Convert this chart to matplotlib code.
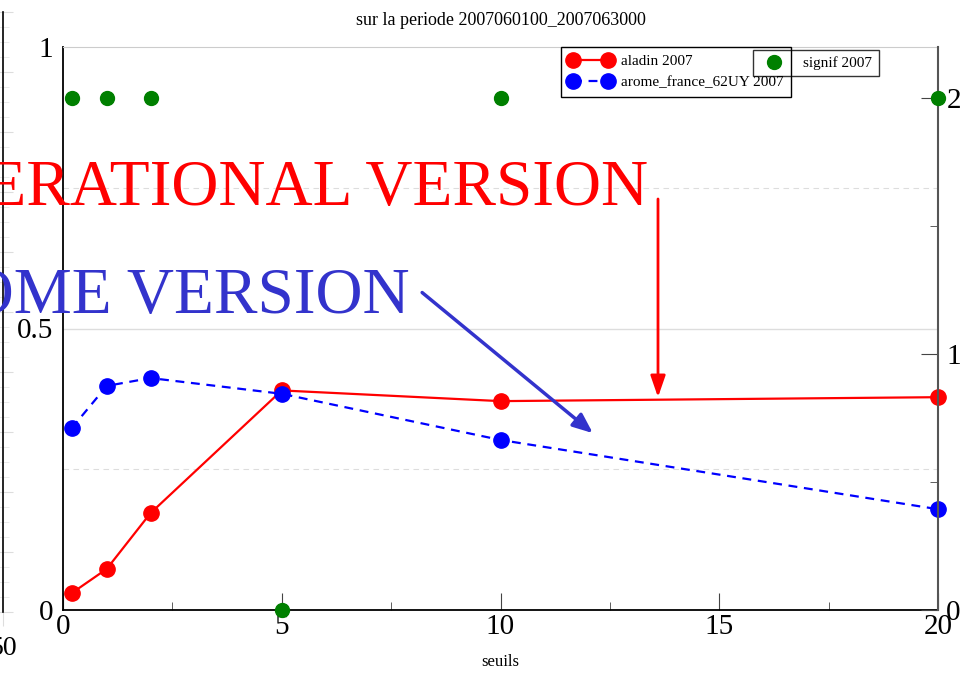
import matplotlib
matplotlib.use('Agg')
import matplotlib.pyplot as plt
from matplotlib.ticker import MultipleLocator, FixedLocator

plt.rcParams['font.family'] = ['Liberation Serif', 'DejaVu Serif']

# data
seuils = [0.2, 1, 2, 5, 10, 20]
aladin = [0.030, 0.073, 0.172, 0.390, 0.371, 0.378]
arome = [0.323, 0.398, 0.412, 0.384, 0.302, 0.179]
signif = [2, 2, 2, 0, 2, 2]

title = "sur la periode 2007060100_2007063000"
xlabel = "seuils"

W, H = 978, 673
fig = plt.figure(figsize=(W / 100, H / 100), dpi=100)

# remnant of the neighbouring panel on the left edge
aux = fig.add_axes([-0.3, 1 - 612 / H, 0.3 + 3 / W, 600 / H])
aux.set_xlim(0, 50)
aux.set_ylim(0, 1)
for s in ['left', 'top', 'bottom']:
    aux.spines[s].set_visible(False)
aux.spines['right'].set_linewidth(1.2)
aux.set_xticks([50])
aux.set_xticklabels(['50'], fontsize=20)
aux.tick_params(axis='x', length=10, color='#dddddd', direction='out', pad=7)
aux.yaxis.tick_right()
aux.yaxis.set_major_locator(MultipleLocator(0.1))
aux.yaxis.set_minor_locator(MultipleLocator(0.025))
aux.tick_params(axis='y', which='major', direction='inout', length=14, color='#dddddd', labelright=False)
aux.tick_params(axis='y', which='minor', direction='inout', length=8, color='#e6e6e6')

ax = fig.add_axes([63 / W, 1 - 610 / H, 875 / W, 563 / H])
ax2 = ax.twinx()

ax.set_xlim(0, 20)
ax.set_ylim(0, 1)
ax2.set_ylim(0, 2.2)

# grid
ax.axhline(0.5, color='#dddddd', lw=1, zorder=0)
for g in [0.25, 0.75]:
    ax.axhline(g, color='#dddddd', lw=0.8, ls=(0, (5, 4)), zorder=0)

ax.plot(seuils, aladin, color='red', lw=1.6, marker='o', ms=11,
        label='aladin 2007', clip_on=False, zorder=3)
ax.plot(seuils, arome, color='blue', lw=1.6, ls=(0, (4, 3)), marker='o', ms=11,
        label='arome_france_62UY 2007', clip_on=False, zorder=3)
ax2.plot(seuils, signif, ls='none', marker='o', ms=10, color='green',
         label='signif 2007', clip_on=False, zorder=4)

# spines
ax.spines['left'].set_color('black')
ax.spines['left'].set_linewidth(1.3)
ax.spines['bottom'].set_color('black')
ax.spines['bottom'].set_linewidth(1.3)
ax.spines['top'].set_color('#cccccc')
ax.spines['right'].set_visible(False)
ax2.spines['right'].set_color('#555555')
ax2.spines['right'].set_linewidth(1.5)
ax2.spines['top'].set_visible(False)
ax2.spines['left'].set_visible(False)
ax2.spines['bottom'].set_visible(False)

# ticks
ax.set_yticks([0, 0.5, 1])
ax.set_yticklabels(['0', '0.5', '1'])
ax.tick_params(axis='y', length=0, pad=7, labelsize=21)
ax.xaxis.set_major_locator(MultipleLocator(5))
ax.xaxis.set_minor_locator(MultipleLocator(2.5))
ax.tick_params(axis='x', which='major', direction='in', length=12, color='#444444',
               labelsize=21, pad=3)
ax.tick_params(axis='x', which='minor', direction='in', length=6, color='#444444')

ax2.yaxis.set_major_locator(FixedLocator([0, 1, 2]))
ax2.yaxis.set_minor_locator(FixedLocator([0.5, 1.5]))
ax2.set_yticklabels(['0', '1', '2'])
ax2.tick_params(axis='y', which='major', direction='in', length=12, color='#444444',
                labelsize=21, pad=6)
ax2.tick_params(axis='y', which='minor', direction='in', length=6, color='#444444')

ax.set_title(title, fontsize=13, pad=16)
ax.set_xlabel(xlabel, fontsize=12, labelpad=10)

# legends
leg1 = ax.legend(loc='upper left', bbox_to_anchor=(561 / W, 1 - 47 / H),
                 bbox_transform=fig.transFigure, fontsize=11, numpoints=2,
                 handlelength=2.9, borderaxespad=0, borderpad=0.5,
                 labelspacing=0.45, handletextpad=0.5, fancybox=False,
                 edgecolor='black', facecolor='white', framealpha=1)
leg1.get_frame().set_linewidth(1)
leg1.set_zorder(5)
leg2 = ax2.legend(loc='upper left', bbox_to_anchor=(753 / W, 1 - 50 / H),
                  bbox_transform=fig.transFigure, fontsize=11, numpoints=1,
                  handlelength=1.9, borderaxespad=0, borderpad=0.4,
                  handletextpad=1.0, fancybox=False, edgecolor='black',
                  facecolor='none', framealpha=None)
leg2.get_frame().set_linewidth(1)

# annotations
ax.text(13.37, 0.719, "OPERATIONAL VERSION", color='red', fontsize=47,
        ha='right', va='baseline', clip_on=False, zorder=6)
ax.annotate('', xy=(13.6, 0.373), xytext=(13.6, 0.735),
            arrowprops=dict(arrowstyle='-|>,head_length=1.3,head_width=0.45',
                            color='red', lw=2), zorder=6)
ax.text(7.93, 0.5275, "AROME VERSION", color='#3333cc', fontsize=47,
        ha='right', va='baseline', clip_on=False, zorder=6)
ax.annotate('', xy=(12.16, 0.311), xytext=(8.16, 0.567),
            arrowprops=dict(arrowstyle='-|>,head_length=1.2,head_width=0.5',
                            color='#3333cc', lw=2.5), zorder=6)

fig.savefig('out.png', dpi=100)
plt.close(fig)
